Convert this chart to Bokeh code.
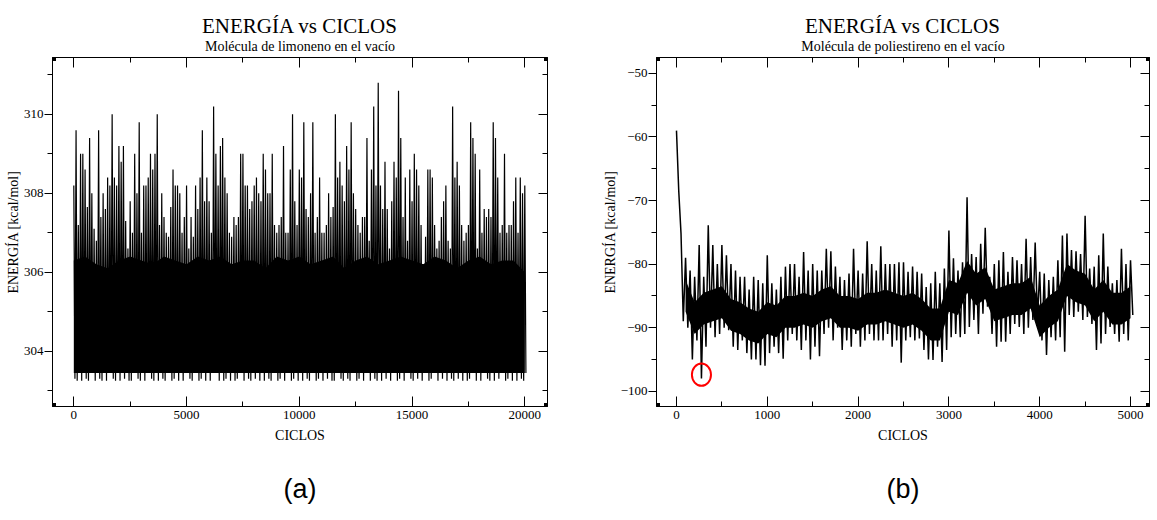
import numpy as np
from bokeh.plotting import figure
from bokeh.models import Range1d, LinearAxis, FixedTicker, BoxAnnotation
from bokeh.layouts import row
from bokeh.embed import file_html
from bokeh.resources import INLINE

# ---------------- data ----------------
titulo = "ENERGÍA vs CICLOS"
subtitulo_a = "Molécula de limoneno en el vacío"
subtitulo_b = "Molécula de poliestireno en el vacío"
etiqueta_x = "CICLOS"
etiqueta_y = "ENERGÍA [kcal/mol]"
panel_a = "(a)"
panel_b = "(b)"

# panel (a): limonene, 100-cycle bins, max / min energy of each bin
ciclos_a = list(range(0, 20001, 100))
energia_a_max = [
    308.2, 309.6, 307.2, 309.0, 309.0, 308.6, 307.65, 309.4, 308.0, 307.1,
    306.8, 309.6, 307.4, 308.0, 307.6, 308.4, 308.2, 310.0, 308.4, 308.2,
    309.2, 308.8, 309.2, 307.3, 306.6, 307.8, 307.0, 309.0, 308.0, 309.8,
    307.0, 308.2, 308.2, 308.4, 309.0, 308.6, 309.0, 310.0, 307.2, 308.0,
    307.4, 307.0, 306.9, 307.65, 308.6, 308.2, 308.2, 308.0, 307.0, 307.4,
    308.2, 306.6, 307.4, 306.9, 308.2, 307.6, 308.4, 309.6, 307.8, 308.4,
    307.8, 307.0, 310.2, 309.0, 308.2, 309.2, 309.4, 308.4, 308.0, 307.0,
    306.9, 307.4, 307.2, 307.4, 309.0, 309.0, 308.2, 308.2, 307.6, 307.8,
    308.2, 308.4, 308.0, 307.8, 309.0, 308.6, 308.0, 308.0, 309.0, 307.2,
    307.0, 307.2, 307.4, 309.2, 307.0, 307.0, 308.6, 310.0, 307.8, 307.2,
    308.6, 308.4, 309.8, 307.6, 307.4, 308.0, 309.8, 307.0, 307.4, 308.4,
    307.0, 307.0, 307.2, 308.0, 307.4, 307.65, 310.0, 308.4, 308.8, 308.2,
    307.8, 309.2, 308.6, 309.8, 308.0, 307.6, 307.2, 307.0, 307.4, 307.4,
    309.4, 306.8, 308.6, 310.2, 308.2, 310.8, 308.2, 307.6, 308.8, 307.6,
    306.6, 307.8, 308.8, 308.4, 310.6, 309.4, 307.4, 308.4, 306.8, 308.6,
    307.8, 309.0, 308.6, 308.2, 307.2, 306.2, 306.9, 308.6, 308.6, 308.4,
    307.2, 306.6, 306.8, 307.4, 307.8, 308.2, 306.8, 306.6, 310.2, 308.4,
    308.8, 308.2, 307.2, 306.8, 307.0, 307.2, 309.8, 309.4, 309.0, 306.6,
    308.6, 307.0, 307.6, 307.4, 307.6, 307.4, 309.8, 309.4, 308.4, 307.0,
    307.2, 309.0, 307.0, 307.2, 307.2, 307.8, 308.4, 307.0, 308.4, 308.0,
    308.2,
]
energia_a_min = [
    303.30, 303.25, 303.45, 303.25, 303.45, 303.30, 303.25, 303.45, 303.45, 303.25,
    303.45, 303.30, 303.25, 303.45, 303.25, 303.45, 303.45, 303.30, 303.25, 303.45,
    303.25, 303.45, 303.30, 303.45, 303.25, 303.25, 303.45, 303.45, 303.30, 303.25,
    303.45, 303.25, 303.45, 303.45, 303.30, 303.25, 303.45, 303.25, 303.45, 303.30,
    303.25, 303.45, 303.45, 303.25, 303.30, 303.45, 303.25, 303.45, 303.25, 303.45,
    303.45, 303.30, 303.25, 303.45, 303.45, 303.25, 303.30, 303.45, 303.25, 303.45,
    303.25, 303.45, 303.45, 303.80, 303.25, 303.45, 303.25, 303.30, 303.45, 303.25,
    303.45, 303.25, 303.30, 303.45, 303.45, 303.25, 303.45, 303.30, 303.25, 303.45,
    303.30, 303.45, 303.25, 303.45, 303.25, 303.45, 303.30, 303.25, 303.45, 303.45,
    303.25, 303.30, 303.45, 303.25, 303.45, 303.45, 303.25, 303.30, 303.45, 303.25,
    303.45, 303.25, 303.45, 303.30, 303.25, 303.45, 303.45, 303.25, 303.30, 303.45,
    303.25, 303.45, 303.30, 303.45, 303.25, 303.25, 303.45, 303.45, 303.30, 303.25,
    303.45, 303.30, 303.25, 303.45, 303.45, 303.25, 303.30, 303.45, 303.25, 303.45,
    303.45, 303.25, 303.45, 303.30, 303.25, 303.45, 303.25, 303.45, 303.30, 303.45,
    303.25, 303.45, 303.45, 303.25, 303.30, 303.45, 303.25, 303.45, 303.45, 303.30,
    303.25, 303.45, 303.30, 303.45, 303.25, 303.45, 303.45, 303.25, 303.30, 303.45,
    303.45, 303.25, 303.45, 303.30, 303.45, 303.25, 303.45, 303.30, 303.25, 303.45,
    303.30, 303.45, 303.25, 303.45, 303.25, 303.30, 303.45, 303.45, 303.25, 303.45,
    303.25, 303.45, 303.45, 303.30, 303.25, 303.45, 303.25, 303.80, 303.30, 303.45,
    303.45, 303.25, 303.30, 303.45, 303.25, 303.45, 303.25, 303.45, 303.30, 303.25,
    303.45,
]
# dense (solid) core of the trace in panel (a), every 500 cycles
ciclos_a_banda = list(range(0, 20001, 500))
banda_a_sup = [
    306.3, 306.4, 306.2, 306.1, 306.3, 306.4, 306.3, 306.2, 306.4, 306.3,
    306.2, 306.4, 306.3, 306.4, 306.2, 306.3, 306.3, 306.1, 306.4, 306.3,
    306.4, 306.2, 306.3, 306.4, 306.1, 306.3, 306.4, 306.2, 306.3, 306.4,
    306.3, 306.2, 306.4, 306.3, 306.1, 306.3, 306.4, 306.2, 306.3, 306.3,
    306.0,
]
banda_a_inf = [303.45] * 41

# panel (b): polystyrene, 50-cycle bins, max / min energy of each bin
ciclos_b = list(range(0, 5001, 50))
energia_b_max = [
    -59.0, -75.2, -79.0, -81.0, -82.0, -77.0, -82.0, -73.9, -77.0, -80.0,
    -77.0, -78.6, -80.0, -81.0, -82.0, -82.0, -84.0, -82.0, -82.5, -83.0,
    -78.6, -83.0, -84.0, -82.0, -80.4, -80.0, -80.0, -82.0, -78.1, -81.0,
    -80.0, -81.0, -81.0, -77.6, -78.0, -80.4, -82.0, -82.5, -81.5, -77.6,
    -81.0, -81.5, -76.4, -80.0, -81.0, -77.2, -80.0, -80.0, -80.0, -79.7,
    -79.7, -81.2, -80.4, -81.2, -81.5, -83.6, -83.0, -81.2, -83.0, -80.7,
    -74.7, -79.1, -81.0, -79.7, -69.5, -78.4, -78.9, -76.8, -74.3, -82.0,
    -80.0, -79.4, -78.1, -81.2, -78.9, -79.4, -80.0, -76.0, -78.9, -76.6,
    -81.2, -81.5, -82.5, -82.0, -79.4, -75.5, -75.2, -77.8, -78.0, -78.4,
    -72.4, -80.7, -80.4, -78.6, -75.2, -80.4, -83.0, -82.5, -77.6, -80.0,
    -79.4,
]
energia_b_min = [
    -68.5, -89.0, -90.0, -95.0, -92.0, -98.0, -93.0, -90.0, -91.5, -91.0,
    -90.0, -90.4, -93.0, -93.5, -92.0, -94.0, -95.0, -95.0, -95.9, -96.0,
    -94.0, -93.0, -94.0, -94.9, -92.0, -91.0, -92.0, -93.5, -92.0, -95.0,
    -93.0, -94.5, -91.0, -90.0, -92.0, -90.0, -93.5, -92.0, -93.0, -91.0,
    -93.0, -92.0, -91.0, -92.0, -92.0, -92.0, -91.0, -93.0, -92.0, -95.5,
    -92.0, -91.5, -92.0, -91.7, -93.5, -95.0, -95.1, -93.0, -95.4, -93.5,
    -91.5, -91.0, -91.5, -91.0, -89.9, -88.8, -91.0, -87.8, -86.7, -91.0,
    -93.0, -92.2, -92.2, -91.0, -89.4, -89.9, -91.0, -90.0, -88.8, -88.5,
    -92.0, -94.3, -91.5, -92.0, -91.5, -93.8, -88.0, -88.3, -87.5, -88.8,
    -88.3, -89.4, -93.5, -92.5, -91.0, -89.9, -91.0, -92.2, -91.0, -92.0,
    -88.0,
]
# dense (solid) core of the trace in panel (b), every 100 cycles
ciclos_b_banda = list(range(100, 5001, 100))
banda_b_sup = [
    -82.5, -86.0, -84.5, -84.0, -83.5, -85.5, -86.0, -87.0, -87.5, -86.0,
    -86.5, -85.0, -85.0, -84.5, -85.0, -84.0, -83.5, -85.0, -85.0, -85.5,
    -84.5, -84.5, -84.0, -84.5, -85.0, -84.5, -85.5, -87.0, -87.0, -82.5,
    -83.0, -79.5, -81.5, -80.5, -84.0, -83.5, -83.0, -83.0, -82.0, -86.5,
    -85.0, -84.0, -80.0, -81.0, -81.5, -84.0, -82.5, -84.5, -84.5, -83.5,
]
banda_b_inf = [
    -87.5, -91.0, -89.5, -89.0, -88.5, -90.5, -91.0, -92.0, -92.5, -91.0,
    -91.5, -90.0, -90.0, -89.5, -90.0, -89.0, -88.5, -90.0, -90.0, -90.5,
    -89.5, -89.5, -89.0, -89.5, -90.0, -89.5, -90.5, -92.0, -92.0, -87.5,
    -88.0, -84.5, -86.5, -85.5, -89.0, -88.5, -88.0, -88.0, -87.0, -91.5,
    -90.0, -89.0, -85.0, -86.0, -86.5, -89.0, -87.5, -89.5, -89.5, -88.5,
]

ticks_a_x = [0, 5000, 10000, 15000, 20000]
minor_a_x = [2500, 7500, 12500, 17500]
ticks_a_y = [304, 306, 308, 310]
minor_a_y = [303, 305, 307, 309, 311]
ticks_b_x = [0, 1000, 2000, 3000, 4000, 5000]
minor_b_x = [500, 1500, 2500, 3500, 4500]
ticks_b_y = [-100, -90, -80, -70, -60, -50]
minor_b_y = [-95, -85, -75, -65, -55]

SERIF = "Liberation Serif"
FIG_H = 519
BORDER_TOP = 57
BORDER_BOTTOM = 113
FRAME_H = FIG_H - BORDER_TOP - BORDER_BOTTOM


def interleave(cx, ymax, ymin):
    cx = np.asarray(cx, dtype=float)
    half = (cx[1] - cx[0]) / 2.0
    xs = np.empty(2 * len(cx))
    ys = np.empty(2 * len(cx))
    xs[0::2] = cx
    xs[1::2] = cx + half
    ys[0::2] = ymax
    ys[1::2] = ymin
    return xs, ys


def style_common(ax):
    ax.axis_line_color = "black"
    ax.axis_line_width = 1
    ax.major_tick_line_color = "black"
    ax.minor_tick_line_color = "black"
    ax.major_label_text_font = SERIF
    ax.major_label_text_font_size = "13px"
    ax.major_label_text_color = "black"
    ax.axis_label_text_font = SERIF
    ax.axis_label_text_font_size = "14px"
    ax.axis_label_text_font_style = "normal"
    ax.axis_label_text_color = "black"


def text_axis(text, font, size, standoff):
    """An axis without line, ticks or tick labels that only carries a text."""
    ax = LinearAxis(ticker=FixedTicker(ticks=[]), axis_label=text)
    ax.axis_line_color = None
    ax.major_tick_line_color = None
    ax.minor_tick_line_color = None
    ax.major_tick_in = 0
    ax.major_tick_out = 0
    ax.minor_tick_in = 0
    ax.minor_tick_out = 0
    ax.major_label_standoff = 0
    ax.axis_label_text_font = font
    ax.axis_label_text_font_size = size
    ax.axis_label_text_font_style = "normal"
    ax.axis_label_text_color = "black"
    ax.axis_label_standoff = standoff
    return ax


def make_panel(width, bl, br, xr, yr, xt, xm, yt, ym, xs, ys, bx, b_inf, b_sup,
               lw, sub, tag):
    p = figure(width=width, height=FIG_H, x_range=Range1d(*xr), y_range=Range1d(*yr),
               output_backend="svg", toolbar_location=None, title=None,
               min_border_left=bl, min_border_right=br, min_border_top=BORDER_TOP,
               min_border_bottom=BORDER_BOTTOM)
    p.outline_line_color = "black"
    p.xgrid.visible = False
    p.ygrid.visible = False
    p.background_fill_color = "white"
    p.border_fill_color = "white"

    frame_w = width - bl - br
    ux = (xr[1] - xr[0]) / frame_w      # data units per pixel, x
    uy = (yr[1] - yr[0]) / FRAME_H      # data units per pixel, y

    xtick = FixedTicker(ticks=xt, minor_ticks=xm)
    ytick = FixedTicker(ticks=yt, minor_ticks=ym)

    xa = p.xaxis[0]
    xa.ticker = xtick
    style_common(xa)
    xa.axis_label = etiqueta_x
    xa.major_tick_in = 10
    xa.major_tick_out = 0
    xa.minor_tick_in = 5
    xa.minor_tick_out = 0
    xa.major_label_standoff = 4
    xa.axis_label_standoff = 6

    ya = p.yaxis[0]
    ya.ticker = ytick
    style_common(ya)
    ya.axis_label = etiqueta_y
    ya.major_tick_in = 0
    ya.major_tick_out = 8
    ya.minor_tick_in = 0
    ya.minor_tick_out = 5
    ya.major_label_standoff = 1
    ya.axis_label_standoff = 0

    top = LinearAxis(ticker=xtick)
    style_common(top)
    top.major_tick_in = 10
    top.major_tick_out = 0
    top.minor_tick_in = 5
    top.minor_tick_out = 0
    top.major_label_overrides = {t: "" for t in xt}
    top.major_label_standoff = 0
    top.axis_label = sub
    top.axis_label_standoff = 4
    p.add_layout(top, "above")
    p.add_layout(text_axis(titulo, SERIF, "21px", -2), "above")

    right = LinearAxis(ticker=ytick)
    style_common(right)
    right.major_tick_in = 9
    right.major_tick_out = 0
    right.minor_tick_in = 5
    right.minor_tick_out = 0
    right.major_label_overrides = {t: "" for t in yt}
    right.major_label_standoff = 0
    p.add_layout(right, "right")

    p.add_layout(text_axis(tag, "Liberation Sans", "27px", 28), "below")

    p.varea(x=bx, y1=b_inf, y2=b_sup, fill_color="black")
    p.line(xs, ys, line_color="black", line_width=lw)

    # selection handles at the four frame corners
    h = 3.5
    for cx in xr:
        for cy in yr:
            p.add_layout(BoxAnnotation(left=cx - h * ux, right=cx + h * ux,
                                       bottom=cy - h * uy, top=cy + h * uy,
                                       fill_color="black", fill_alpha=1.0,
                                       line_color=None, level="overlay"))
    return p


xs_a, ys_a = interleave(ciclos_a, energia_a_max, energia_a_min)
xs_b, ys_b = interleave(ciclos_b, energia_b_max, energia_b_min)

pa = make_panel(596, 52, 49, (-945, 21007), (302.6, 311.44), ticks_a_x, minor_a_x,
                ticks_a_y, minor_a_y, xs_a, ys_a, ciclos_a_banda, banda_a_inf, banda_a_sup,
                1.2, subtitulo_a, panel_a)
pb = make_panel(560, 60, 7, (-220, 5209), (-102.4, -47.5), ticks_b_x, minor_b_x,
                ticks_b_y, minor_b_y, xs_b, ys_b, ciclos_b_banda, banda_b_inf, banda_b_sup,
                1.5, subtitulo_b, panel_b)

# red circle marking the minimum of panel (b)
i_min = int(np.argmin(ys_b))
pb.ellipse(x=[xs_b[i_min]], y=[ys_b[i_min] + 0.6], width=210, height=3.5,
           fill_color=None, line_color="red", line_width=2)

layout = row(pa, pb)
open("out.html", "w").write(file_html(layout, INLINE))
